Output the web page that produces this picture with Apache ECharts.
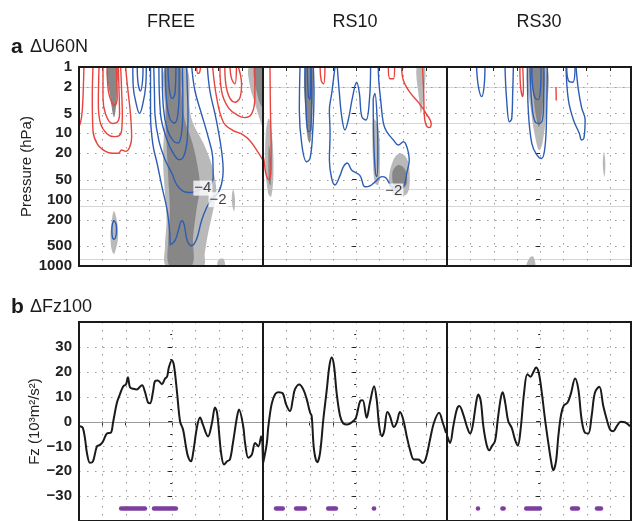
<!DOCTYPE html>
<html>
<head>
<meta charset="utf-8">
<script src="https://cdn.jsdelivr.net/npm/echarts@6/dist/echarts.min.js"></script>
<style>
  html, body { margin: 0; padding: 0; background: #fff; }
  #main { width: 633px; height: 521px; }
</style>
</head>
<body>
<div id="main"></div>
<script>
// ---------- data ----------
var panels = ['FREE', 'RS10', 'RS30'];
var pressureTicks = [1, 2, 5, 10, 20, 50, 100, 200, 500, 1000];
var dayGrid = [-30, -20, -10, 0, 10, 20, 30];
var fzGrid = [-30, -20, -10, 10, 20, 30];
var faintLevels = [2, 7, 69, 125, 790];   // faint solid lines seen in panel a

// panel b: Fz at 100 hPa, [day, value]
var fzFree = [[-39.6,-1.9],[-38.4,-2.5],[-37.4,-7],[-36.6,-12.6],[-35.3,-16.6],[-34.0,-16],[-32.3,-10],[-31.0,-9.4],[-29.7,-8],[-28.0,-4.8],[-26.3,-4.5],[-25.4,-0.5],[-23.7,7.6],[-22.4,11],[-21.1,14],[-19.8,15],[-19.0,17.8],[-18.1,13.7],[-16.8,13.2],[-15.1,12.9],[-13.8,14],[-12.9,14.6],[-11.7,12],[-10.4,7.7],[-9.5,7.3],[-8.2,12.1],[-7.4,16.2],[-6.1,16.5],[-4.4,15],[-3.1,17.2],[-2.2,18],[-1.4,21.8],[-0.1,24.6],[0.8,22.3],[2.1,11.6],[3.4,0],[4.7,-3.3],[5.9,-10],[6.8,-14],[8.1,-16],[9.0,-12.6],[10.7,-2],[12.0,1.6],[13.2,-1.3],[15.4,-6],[17.1,-0.5],[18.4,5.6],[19.3,3.5],[21.0,-12.6],[22.3,-17.3],[23.6,-16],[24.8,-15.3],[26.1,-8.6],[27.8,1.6],[28.7,4.8],[30.5,-1.9],[31.3,-8.6],[32.7,-14.6],[34.2,-13.3],[35.6,-8.6],[37.0,-10],[38.2,-5.9],[39,-17]];
var fzRs10 = [[-39.9,-16.5],[-38.4,-9],[-37.7,-2],[-36.3,7],[-34.8,11],[-33.4,11.8],[-31.5,11.3],[-30.1,6.9],[-28.4,4.2],[-27.2,8.9],[-26.3,12.9],[-24.4,14.9],[-22.7,12.9],[-21.2,8.9],[-19.8,3.6],[-19.1,2.2],[-18.1,-11.3],[-16.7,-16.4],[-15.5,-12.6],[-14.1,0.8],[-12.6,12.9],[-11.5,22.3],[-10.5,25.7],[-9.5,22.3],[-8.4,11.6],[-6.9,2.2],[-5.5,-0.8],[-3.8,-1.2],[-1.9,-0.3],[-0.1,1.5],[1.7,8.2],[2.8,8.5],[4.5,1.5],[5.9,7.5],[7.7,14.2],[8.8,8.9],[9.9,-1.9],[11.0,-5.9],[12.0,-3.9],[13.4,3.8],[14.5,2.2],[16.2,-2.2],[17.4,-0.5],[18.8,3.8],[20.2,0.8],[21.7,-5.9],[23.1,-11.3],[24.8,-15.3],[26.7,-15.3],[28.6,-16.7],[30.0,-14.6],[31.7,-7.3],[33.4,-0.5],[35.6,3.5],[37.2,-0.5],[38.6,-4.6]];
var fzRs30 = [[-39.9,-5.9],[-38.7,-8.6],[-37.3,-1.9],[-35.8,4.8],[-34.7,6.2],[-33.0,2.8],[-31.5,-1.9],[-30.1,-4.8],[-29.0,-1.9],[-27.5,7.5],[-26.6,10.9],[-25.5,8.2],[-24.4,-1.9],[-23.0,-9.3],[-21.8,-11.6],[-20.8,-10],[-19.4,-7.9],[-18.2,0.8],[-16.9,9.5],[-16.1,11.8],[-15.0,7.5],[-13.7,0.1],[-12.2,-2.6],[-10.8,-7.3],[-9.6,-9.7],[-8.4,-3.2],[-6.9,11.6],[-5.5,19],[-4.1,18],[-2.9,19.9],[-1.8,21.7],[-0.6,19.6],[0.7,11.6],[2.1,0.8],[3.5,-8.6],[4.7,-16],[5.6,-19.6],[6.8,-16],[7.8,-5.9],[9.0,2.8],[10.2,6.5],[11.7,7.5],[13.1,10.9],[15.0,17.3],[16.4,12.9],[17.8,0.8],[19.3,-4.6],[20.7,-4.8],[22.1,2.2],[23.5,11.6],[25.4,14],[27.1,6.2],[28.6,0.8],[30.0,-3.2],[31.4,-3.9],[32.9,-1.9],[34.6,-0.1],[36.4,-0.3],[38.6,-1.9]];

// significant periods (purple bars), [start day, end day]
var sigLevel = -35;
var sigFree = [[-21.9,-11.7],[-7.8,1.6]];
var sigRs10 = [[-34.4,-31.5],[-25.8,-22],[-12,-8.7],[7.6,7.7]];
var sigRs30 = [[-26.7,-26.7],[-16.2,-15.7],[-6,-0.1],[13.7,16.2],[24.4,26.1]];

// panel a: contours of dU60N, points [day, hPa]
var freePos = [
  [[-37.9,1],[-38.3,2.9],[-38.9,5.7],[-40,8.1]],
  [[-34,1],[-34.3,2.9],[-34,9.1],[-32.1,14.5],[-28.6,18.7],[-25.7,20],[-23.1,20],[-21.7,17.8],[-20,18.7],[-18.3,16.3],[-17.4,11.5],[-17.9,5.1],[-19.3,1.8],[-20,1]],
  [[-31.4,1],[-31.7,3.6],[-30.7,7.2],[-27.9,10.2],[-25,11.2],[-22.9,10.9],[-21.7,9.1],[-21.4,5.1],[-21.7,2.3],[-22.1,1]],
  [[-29.7,1],[-29.7,2.9],[-28.6,5.1],[-25.7,7.1],[-23.6,6.8],[-22.6,5.1],[-22.9,1.8],[-23.1,1]],
  [[-27.9,1],[-27.4,2.3],[-25.7,3.6],[-24.6,3.8],[-23.6,2.9],[-24,1]],
  [[10.5,1],[11,1.25],[11.8,1.2],[12.1,1]],
  [[17.4,1],[19.1,2.9],[22,6.8],[26.2,9.1],[29.8,10.2],[33.4,12.9],[37,19.6],[39,25.7]],
  [[20.5,1],[21.2,2.3],[24.1,4.1],[28.4,5.4],[31.2,5.8],[34.1,5.1],[35.5,2.9],[35.5,1]],
  [[22.6,1],[23.6,2.3],[26.9,3.4],[29.1,2.9],[29.8,1.8],[28.4,1]],
  [[24.8,1],[25.5,1.5],[26.9,1.8],[27.6,1]]
];
var freeNeg = [
  [[-16.9,1],[-16.7,2],[-15.5,3.5],[-14,5],[-12.6,3.6],[-11.4,2],[-11.1,1]],
  [[-15,1],[-14.6,1.8],[-13.6,2.3],[-12.7,1.6],[-12.5,1]],
  [[-9.3,1],[-9.3,5.1],[-8.3,14.5],[-6.4,29],[-4.3,66],[-2.1,147],[-1,330],[-0.8,480],[1.2,415],[2.6,297],[4.1,208],[5.1,234],[6.5,415],[8.4,494],[10.5,393],[12.6,208],[14.8,131],[17,98],[19.8,78],[21.2,58],[21.9,36.8],[21.2,18.3],[19.8,9.1],[18.4,5.1],[16.2,2.3],[15.1,1]],
  [[-7.9,1],[-7.6,2.5],[-7.4,5.1],[-5.7,12.9],[-2.9,25.7],[0,41],[2,60],[4.8,75],[7.6,78],[10,75],[13,68],[16,62],[17.6,46],[17.4,23],[15.5,11.5],[12.6,5.1],[9.8,2.3],[8.4,1]],
  [[-5.7,1],[-5,5.1],[-2.1,12.9],[0.7,20.6],[3,25],[5,22],[6.5,12],[6.8,5],[6.5,2],[6.2,1]],
  [[-4.3,1],[-3.8,4],[-2,9],[0.5,13],[2.5,14],[4,10],[4.6,4],[4.4,1]],
  [[-3,1],[-2.5,3],[-1,6],[1,7],[2.5,5],[3,2],[3,1]],
  [[-1.8,1],[-1.2,2.2],[0,3],[1.2,2.5],[1.6,1]],
  [[-25,205],[-24,240],[-23.9,300],[-24.3,370],[-25,395],[-25.7,360],[-25.9,290],[-25.6,230],[-25,205]]
];
var freeLight = [
  [[-3.1,1],[6.1,1],[7.6,4.5],[9,7.1],[11.9,11.2],[14.7,17.8],[17.6,36],[19,80],[17.6,144],[15.4,324],[14,645],[13.3,1000],[-2.4,1000],[-3.1,513],[-2.4,204],[-3.1,80],[-3.9,25],[-3.1,4.5]],
  [[33,1],[39,1],[39,8],[37.5,6],[35.5,3.5],[33.5,2]],
  [[26.2,70],[27,100],[26.6,150],[25.8,120],[25.6,90]],
  [[-25,148],[-23.5,230],[-23.3,400],[-24.2,560],[-25,660],[-26,560],[-26.5,350],[-26,220]],
  [[20,800],[22,780],[22.5,1000],[19.5,1000]]
];
var freeDark = [
  [[-2.4,1],[3.3,1],[4,2.5],[5.4,6.3],[8.3,12.6],[10.4,25],[11.9,63],[10.4,144],[9,363],[8.3,1000],[-1,1000],[-1.7,407],[-1,144],[-1.7,45],[-2.4,14],[-2.7,2.5]],
  [[35,1],[39,1],[39,4],[37,3]],
  [[-27.9,1],[-23.1,1],[-23.6,1.8],[-24,3.6],[-25,5.7],[-26.5,2.9]]
];

var rs10Pos = [
  [[-37,1],[-36.8,5],[-36.5,15],[-36.6,35],[-37.5,50],[-38.8,40],[-39.6,25],[-40,22]],
  [[-15.5,1],[-15,1.6],[-14,1.8],[-13.4,1]],
  [[13.8,1],[14.5,1.5],[16,1.5],[16.5,1]],
  [[19.5,1],[20.3,1.6],[23,2.4],[27,3.5],[30,5],[32.2,7.2],[31.5,8.2],[30,7.5],[29.2,5],[29,2.5],[28.5,1]]
];
var rs10Neg = [
  [[-24.1,1],[-24.4,4.5],[-23.4,14.2],[-21.3,26.8],[-19.8,23.8],[-18.7,10],[-18.1,2.5],[-18.4,1]],
  [[-22,1],[-21.5,4.5],[-20.5,9.4],[-19.5,8.9],[-19.1,2.5],[-19.4,1]],
  [[-21,1],[-20.5,2.8],[-19.8,3.1],[-19.5,1]],
  [[-9.1,1],[-10.5,2.5],[-11.5,4.5],[-11.2,10],[-11.5,25],[-10.5,48],[-9.1,60],[-6.9,43],[-5.5,32],[-3.8,28],[-1.9,36],[1.6,43],[3.8,64],[5.9,62],[8.1,54],[11,45],[12.8,47],[15,62],[18,72],[20.5,62],[21.7,40],[22.8,25],[22,17],[20.3,13.4],[18.1,15],[16,12.6],[13.1,9.4],[11.7,7.1],[10.5,3.1],[9.7,1.6],[9.5,1]],
  [[-8.1,1],[-7.2,2.5],[-6.2,5.6],[-4.8,8.9],[-3.4,6.3],[-1.5,2.8],[0.2,1.7],[1.4,2.5],[2.4,5.6],[4.2,6.3],[5.7,3.1],[6.2,1]],
  [[7.3,3],[7.6,15],[8.3,40],[8.9,45],[9.3,20],[9,6],[8,2.5],[7.3,3]]
];
var rs10Light = [
  [[-37.5,6],[-36,12],[-35.5,40],[-36.5,90],[-37.8,80],[-39,30],[-38.8,10]],
  [[7.3,6],[9.5,8],[10.2,30],[9.5,60],[8,55],[7.2,25]],
  [[14,50],[16,25],[19,20],[22,25],[23,45],[22,80],[18,90],[15,75]],
  [[26,1],[29.5,1],[28.8,3],[27.8,5],[27,3]]
];
var rs10Dark = [
  [[-22,1],[-18.7,1],[-18.9,6],[-19.8,14],[-20.8,12],[-21.8,5]],
  [[-37.5,15],[-36.5,25],[-36.7,60],[-37.5,55]],
  [[15.5,40],[18,30],[21,35],[21.5,60],[17,70]]
];

var rs30Pos = [
  [[-8.7,1],[-8.4,2],[-7.5,2.8],[-7.2,2],[-7.5,1]],
  [[6.8,2],[6.9,3.2]]
];
var rs30Neg = [
  [[-27.3,1],[-26.5,2],[-25.1,2.8],[-24.1,2],[-23.7,1]],
  [[-15.1,1],[-14.4,3.1],[-13.2,6.7],[-12.2,6],[-11.8,2.5],[-11.5,1]],
  [[-5.5,1],[-5.1,4.5],[-3.6,14.2],[-1.5,21],[0.6,24],[2.1,15.8],[2.8,4.5],[3.1,1]],
  [[-4.4,1],[-3.6,3.5],[-2.2,6.7],[-0.1,7.1],[1.4,4.5],[1.6,1]],
  [[-3.6,1],[-3.2,2],[-2.2,2.9],[-0.8,3.1],[0.2,2],[0.4,1]],
  [[11.4,1],[12.1,1.6],[14,1.7],[15,1]],
  [[11.1,1],[12.1,3.1],[14.3,6.3],[16.8,10],[17.8,12.6],[18.8,11.7],[19.3,6.3],[17.8,4.1],[16.4,2.2],[15.4,1]]
];
var rs30Light = [
  [[-5.2,1],[3,1],[2.5,5],[1,14],[-0.5,18],[-2,12],[-3.8,5]],
  [[27.4,19],[28,28],[27.6,45],[26.9,30]],
  [[-5.8,1000],[-4.5,750],[-3,720],[-2.2,1000]]
];
var rs30Dark = [
  [[-4,1],[1.5,1],[1,4],[-0.5,8],[-2,5],[-3,2.5]]
];

// contour labels [day, hPa, text]
var freeLabels = [[13.2, 67, '\u22124'], [19.7, 100, '\u22122']];
var rs10Labels = [[16.2, 74, '\u22122']];
var rs30Labels = [];

// ---------- chart ----------
var FONT = 'Liberation Sans, Arial, sans-serif';
var lefts = [79, 263, 447];
var W = 184, H = 199;
var RED = '#e8433d', BLUE = '#2d5db3';
var DOT = { stroke: '#9a9a9a', lineWidth: 1, lineDash: [1.5, 6.5] };
var LOG_TICKS = pressureTicks.map(function (p) { return Math.log10(p); });

var sets = [
  { pos: freePos, neg: freeNeg, light: freeLight, dark: freeDark, labels: freeLabels, fz: fzFree, sig: sigFree },
  { pos: rs10Pos, neg: rs10Neg, light: rs10Light, dark: rs10Dark, labels: rs10Labels, fz: fzRs10, sig: sigRs10 },
  { pos: rs30Pos, neg: rs30Neg, light: rs30Light, dark: rs30Dark, labels: rs30Labels, fz: fzRs30, sig: sigRs30 }
];

function toLog(line) {
  return line.map(function (pt) { return [pt[0], Math.log10(pt[1])]; });
}
function minus(v) { return String(v).replace('-', '\u2212'); }

var grids = [], xAxes = [], yAxes = [], series = [];

function shadeSeries(gi, polys, color, z) {
  return {
    type: 'custom', xAxisIndex: gi, yAxisIndex: gi, silent: true, z: z,
    data: [[0, 0]],
    renderItem: function (params, api) {
      var cs = params.coordSys;
      return {
        type: 'group',
        clipPath: { type: 'rect', shape: { x: cs.x, y: cs.y, width: cs.width, height: cs.height } },
        children: polys.map(function (poly) {
          return {
            type: 'polygon',
            shape: { points: toLog(poly).map(function (p) { return api.coord(p); }), smooth: 0.35 },
            style: { fill: color }
          };
        })
      };
    }
  };
}

// reference lines across a grid: horizontal (dim 'y') or vertical (dim 'x')
function refLineSeries(gi, values, dim, style, z) {
  return {
    type: 'custom', xAxisIndex: gi, yAxisIndex: gi, silent: true, z: z,
    data: values.map(function (v) { return [v, v]; }),
    renderItem: function (params, api) {
      var cs = params.coordSys;
      var p = api.coord([api.value(0), api.value(1)]);
      if (dim === 'y') {
        var y = Math.round(p[1]) + 0.5;
        return { type: 'line', shape: { x1: cs.x, y1: y, x2: cs.x + cs.width, y2: y }, style: style };
      }
      var x = Math.round(p[0]) + 0.5;
      return { type: 'line', shape: { x1: x, y1: cs.y, x2: x, y2: cs.y + cs.height }, style: style };
    }
  };
}

function sigSeries(gi, spans) {
  return {
    type: 'custom', xAxisIndex: gi, yAxisIndex: gi, silent: true, z: 4,
    data: spans,
    encode: { x: [0, 1] },
    renderItem: function (params, api) {
      var a = api.coord([api.value(0), sigLevel]);
      var b = api.coord([api.value(1), sigLevel]);
      return {
        type: 'line', shape: { x1: a[0], y1: a[1], x2: b[0] + 0.01, y2: b[1] },
        style: { stroke: '#7d3f9e', lineWidth: 4.5, lineCap: 'round' }
      };
    }
  };
}

function contourSeries(gi, line, color) {
  return {
    type: 'line', xAxisIndex: gi, yAxisIndex: gi, silent: true, z: 3,
    data: toLog(line), showSymbol: false, smooth: 0.4,
    lineStyle: { color: color, width: 1.4 }
  };
}

function xAxisFor(gi) {
  return {
    type: 'value', gridIndex: gi, min: -40, max: 39, interval: 10,
    axisLine: { show: false },
    axisLabel: { show: false },
    axisTick: { show: true, length: 4, lineStyle: { color: '#222' } },
    splitLine: { show: false }
  };
}

for (var i = 0; i < 3; i++) {
  var s = sets[i];
  // ---- panel a: grids 0..2 ----
  var ga = i;
  grids[ga] = { left: lefts[i], top: 67, width: W, height: H, show: true, borderColor: '#1a1a1a', borderWidth: 2, z: 10 };
  xAxes[ga] = xAxisFor(ga);
  yAxes[ga] = {
    type: 'value', gridIndex: ga, min: 0, max: 3, inverse: true,
    axisLine: { show: false },
    axisTick: { show: true, length: 4, customValues: LOG_TICKS, lineStyle: { color: '#222' } },
    axisLabel: {
      show: i === 0, customValues: LOG_TICKS, margin: 7,
      fontFamily: FONT, fontSize: 15, fontWeight: 'bold', color: '#222',
      formatter: function (v) { return String(Math.round(Math.pow(10, v))); }
    },
    splitLine: { show: false },
    name: i === 0 ? 'Pressure (hPa)' : '', nameLocation: 'middle', nameGap: 39,
    nameTextStyle: { fontFamily: FONT, fontSize: 15, color: '#222' }
  };
  series.push(refLineSeries(ga, faintLevels.map(Math.log10), 'y', { stroke: '#d6d6d6', lineWidth: 1 }, 0));
  series.push(refLineSeries(ga, LOG_TICKS.slice(1, -1), 'y', DOT, 0));
  series.push(refLineSeries(ga, dayGrid, 'x', DOT, 0));
  series.push(shadeSeries(ga, s.light, '#b9b9b9', 1));
  series.push(shadeSeries(ga, s.dark, '#878787', 2));
  s.pos.forEach(function (l) { series.push(contourSeries(ga, l, RED)); });
  s.neg.forEach(function (l) { series.push(contourSeries(ga, l, BLUE)); });
  if (s.labels.length) {
    series.push({
      type: 'scatter', xAxisIndex: ga, yAxisIndex: ga, silent: true, z: 6,
      symbolSize: 1, itemStyle: { color: 'rgba(0,0,0,0)' },
      data: s.labels.map(function (l) { return { value: [l[0], Math.log10(l[1])], text: l[2] }; }),
      label: {
        show: true, position: 'inside', fontFamily: FONT, fontSize: 15, color: '#111',
        backgroundColor: '#fff', padding: [0, 1],
        formatter: function (p) { return p.data.text; }
      }
    });
  }

  // ---- panel b: grids 3..5 ----
  var gb = i + 3;
  grids[gb] = { left: lefts[i], top: 322, width: W, height: H, show: true, borderColor: '#1a1a1a', borderWidth: 2, z: 10 };
  xAxes[gb] = xAxisFor(gb);
  yAxes[gb] = {
    type: 'value', gridIndex: gb, min: -40, max: 40, interval: 10,
    axisLine: { show: false },
    axisTick: { show: true, length: 4, lineStyle: { color: '#222' } },
    minorTick: { show: true, splitNumber: 2, length: 2, lineStyle: { color: '#222' } },
    axisLabel: {
      show: i === 0, margin: 7, showMinLabel: false, showMaxLabel: false,
      fontFamily: FONT, fontSize: 15, fontWeight: 'bold', color: '#222',
      formatter: minus
    },
    splitLine: { show: false },
    name: i === 0 ? 'Fz (10\u00b3m\u00b2/s\u00b2)' : '', nameLocation: 'middle', nameGap: 37,
    nameTextStyle: { fontFamily: FONT, fontSize: 15, color: '#222' }
  };
  series.push(refLineSeries(gb, fzGrid, 'y', DOT, 0));
  series.push(refLineSeries(gb, dayGrid, 'x', DOT, 0));
  series.push(refLineSeries(gb, [0], 'y', { stroke: '#9a9a9a', lineWidth: 1 }, 1));
  series.push({
    type: 'line', xAxisIndex: gb, yAxisIndex: gb, silent: true, z: 3,
    data: s.fz, showSymbol: false, smooth: 0.35,
    lineStyle: { color: '#1a1a1a', width: 2 }
  });
  series.push(sigSeries(gb, s.sig));
}

function txt(x, y, text, font, align) {
  return {
    type: 'text', x: x, y: y, silent: true,
    style: { text: text, font: font, fill: '#1a1a1a', textAlign: align || 'left', textVerticalAlign: 'middle' }
  };
}

var option = {
  animation: false,
  backgroundColor: '#fff',
  grid: grids,
  xAxis: xAxes,
  yAxis: yAxes,
  series: series,
  graphic: [
    txt(171, 22, 'FREE', '18px ' + FONT, 'center'),
    txt(355, 22, 'RS10', '18px ' + FONT, 'center'),
    txt(539, 22, 'RS30', '18px ' + FONT, 'center'),
    txt(11, 47, 'a', 'bold 21px ' + FONT),
    txt(30, 47, '\u0394U60N', '18px ' + FONT),
    txt(11, 307, 'b', 'bold 21px ' + FONT),
    txt(30, 307, '\u0394Fz100', '18px ' + FONT)
  ]
};

var chart = echarts.init(document.getElementById('main'));
chart.setOption(option);
</script>
</body>
</html>
